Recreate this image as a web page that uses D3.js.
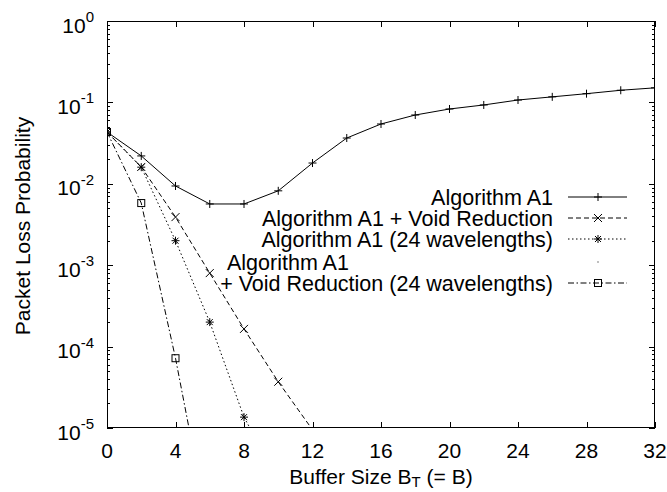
<!DOCTYPE html>
<html><head><meta charset="utf-8">
<script src="https://cdn.jsdelivr.net/npm/d3@7"></script>
<style>body{margin:0;background:#fff} svg text{font-family:"Liberation Sans",Arial,Helvetica,sans-serif;fill:#000}</style>
</head><body><svg id="c" width="667" height="492"></svg>
<script>
// ---- data ----
const xA1 = [0,2,4,6,8,10,12,14,16,18,20,22,24,26,28,30,32];
const algA1 = [0.0433,0.022,0.0094,0.00565,0.00565,0.0082,0.018,0.0365,0.0543,0.070,0.083,0.093,0.107,0.117,0.128,0.141,0.151];
const xVoid = [0,2,4,6,8,10,12];
const algVoid = [0.0433,0.0161,0.0039,0.0008,0.000165,0.000037,0.0000095];
const xWl24 = [0,2,4,6,8,10];
const algWl24 = [0.0433,0.0160,0.0020,0.0002,0.0000136,0.0000023];
const xVoid24 = [0,2,4,6];
const algVoid24 = [0.0433,0.0058,0.000072,0.00000048];
const xTicks = [0,4,8,12,16,20,24,28,32];
const yExponents = [0,-1,-2,-3,-4,-5];
const legendLabels = ["Algorithm A1","Algorithm A1 + Void Reduction","Algorithm A1 (24 wavelengths)","Algorithm A1","+ Void Reduction (24 wavelengths)"];

// ---- layout ----
const L=107,R=655,T=21,B=428;
const FS=21, LFS=21.5, SFS=15;
const svg=d3.select("#c");
const x=d3.scaleLinear().domain([0,32]).range([L,R]);
const y=d3.scaleLog().domain([1e-5,1]).range([B,T]);

svg.append("defs").append("clipPath").attr("id","clip")
  .append("rect").attr("x",L).attr("y",T).attr("width",R-L).attr("height",B-T);

// ticks (both sides, inward)
const g=svg.append("g").attr("stroke","#000").attr("stroke-width",1).attr("shape-rendering","crispEdges");
yExponents.forEach(e=>{
  const v=Math.pow(10,e);
  const yy=Math.round(y(v))+0.5;
  g.append("line").attr("x1",L).attr("x2",L+6).attr("y1",yy).attr("y2",yy);
  g.append("line").attr("x1",R).attr("x2",R-6).attr("y1",yy).attr("y2",yy);
  if(e>-5){
    for(let k=2;k<=9;k++){
      const yk=Math.round(y(k*Math.pow(10,e-1)))+0.5;
      g.append("line").attr("x1",L).attr("x2",L+3).attr("y1",yk).attr("y2",yk);
      g.append("line").attr("x1",R).attr("x2",R-3).attr("y1",yk).attr("y2",yk);
    }
  }
});
xTicks.forEach(t=>{
  const xx=Math.round(x(t))+0.5;
  g.append("line").attr("x1",xx).attr("x2",xx).attr("y1",B).attr("y2",B-6);
  g.append("line").attr("x1",xx).attr("x2",xx).attr("y1",T).attr("y2",T+6);
});
svg.append("rect").attr("x",L+0.5).attr("y",T+0.5).attr("width",R-L-1).attr("height",B-T-1)
  .attr("fill","none").attr("stroke","#000").attr("stroke-width",1);

// y tick labels
yExponents.forEach(e=>{
  const t=svg.append("text").attr("x",94).attr("y",y(Math.pow(10,e))+11.5).attr("text-anchor","end").attr("font-size",FS);
  t.append("tspan").text("10");
  t.append("tspan").attr("font-size",SFS).attr("dy",-10.5).text(e);
});
// x tick labels
xTicks.forEach(tk=>{
  svg.append("text").attr("x",x(tk)).attr("y",458).attr("text-anchor","middle").attr("font-size",FS).text(tk);
});
// axis titles
const xt=svg.append("text").attr("x",381).attr("y",484).attr("text-anchor","middle").attr("font-size",FS);
xt.append("tspan").text("Buffer Size B");
xt.append("tspan").attr("font-size",SFS).attr("dy",3).text("T");
xt.append("tspan").attr("dy",-3).text(" (= B)");
svg.append("text").attr("transform","translate(30,226) rotate(-90)").attr("text-anchor","middle").attr("font-size",FS).text("Packet Loss Probability");

// markers
function plus(sel,cx,cy){sel.append("path").attr("d",`M${cx-4},${cy}H${cx+4}M${cx},${cy-4}V${cy+4}`).attr("stroke","#000").attr("fill","none");}
function cross(sel,cx,cy){sel.append("path").attr("d",`M${cx-4},${cy-4}L${cx+4},${cy+4}M${cx-4},${cy+4}L${cx+4},${cy-4}`).attr("stroke","#000").attr("fill","none");}
function star(sel,cx,cy){plus(sel,cx,cy);sel.append("path").attr("d",`M${cx-3},${cy-3}L${cx+3},${cy+3}M${cx-3},${cy+3}L${cx+3},${cy-3}`).attr("stroke","#000").attr("fill","none");}
function square(sel,cx,cy){sel.append("rect").attr("x",cx-3.5).attr("y",cy-3.5).attr("width",7).attr("height",7).attr("stroke","#000").attr("fill","none");}

const series=[
  {xs:xA1,ys:algA1,dash:null,mk:plus},
  {xs:xVoid,ys:algVoid,dash:"5,3",mk:cross},
  {xs:xWl24,ys:algWl24,dash:"1.5,2.5",mk:star},
  {xs:xVoid24,ys:algVoid24,dash:"6,2.5,1.5,2.5",mk:square}
];
const plot=svg.append("g").attr("clip-path","url(#clip)");
const line=d3.line().x(d=>x(d[0])).y(d=>y(d[1]));
series.forEach(s=>{
  const pts=s.xs.map((v,i)=>[v,s.ys[i]]);
  const p=plot.append("path").attr("d",line(pts)).attr("fill","none").attr("stroke","#000").attr("stroke-width",1);
  if(s.dash)p.attr("stroke-dasharray",s.dash);
  pts.forEach(d=>{ if(d[1]>=1e-5) s.mk(plot,x(d[0]),y(d[1])); });
});

// legend
const legY=[197,218,239,262,283];
const leg=svg.append("g");
[0,1,2,4].forEach(i=>{
  leg.append("text").attr("x",553).attr("y",legY[i]+7.5).attr("text-anchor","end").attr("font-size",LFS).text(legendLabels[i]);
});
leg.append("text").attr("x",227).attr("y",legY[3]+7.5).attr("text-anchor","start").attr("font-size",LFS).text(legendLabels[3]);
const legSeries=[series[0],series[1],series[2],null,series[3]];
legSeries.forEach((s,i)=>{
  const yy=legY[i];
  if(!s){leg.append("rect").attr("x",597.5).attr("y",yy-0.5).attr("width",1).attr("height",1).attr("fill","#000");return;}
  const p=leg.append("line").attr("x1",568).attr("x2",627).attr("y1",yy).attr("y2",yy).attr("stroke","#000");
  if(s.dash)p.attr("stroke-dasharray",s.dash);
  s.mk(leg,598,yy);
});
</script></body></html>
